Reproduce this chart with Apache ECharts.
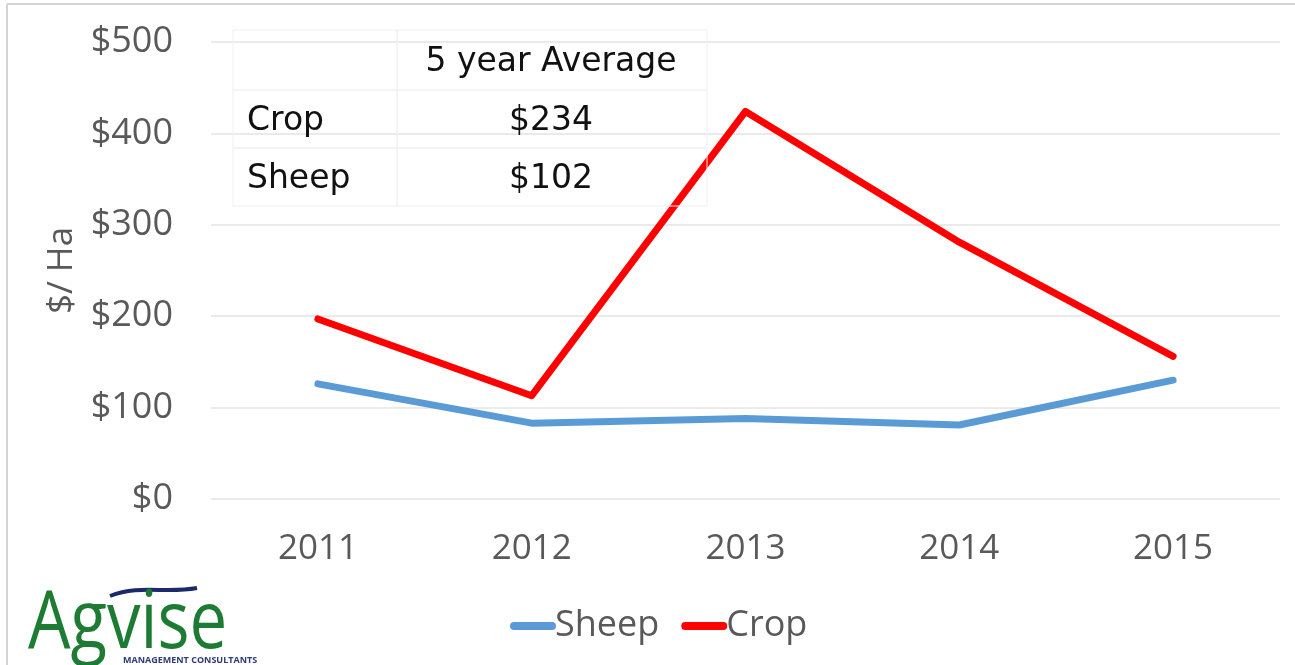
<!DOCTYPE html>
<html>
<head>
<meta charset="utf-8">
<script src="https://cdn.jsdelivr.net/npm/echarts@6/dist/echarts.min.js"></script>
<style>
  html, body { margin: 0; padding: 0; background: #fff; }
  #chart { width: 1295px; height: 665px; }
</style>
</head>
<body>
<div id="chart"></div>
<script>
// data
const years = ['2011', '2012', '2013', '2014', '2015']
const sheep = [126, 83, 88, 81, 130]
const crop = [197, 113, 424, 281, 156]
const avgRows = [['Crop', '$234'], ['Sheep', '$102']]
const avgHeader = '5 year Average'

const axisFont = 'Open Sans'
const tableFont = 'DejaVu Sans'
const grey = '#595959'
const pill = 'path://M4,0 H42 A4,4 0 0 1 42,8 H4 A4,4 0 0 1 4,0 Z'

const chart = echarts.init(document.getElementById('chart'))

// little summary table sitting over the top-left of the plot
const tableEls = []
const colX = [233, 397, 707]
const rowY = [30, 90, 148, 206]
for (let r = 0; r < 3; r++) {
  for (let c = 0; c < 2; c++) {
    tableEls.push({
      type: 'rect',
      shape: { x: colX[c], y: rowY[r], width: colX[c + 1] - colX[c], height: rowY[r + 1] - rowY[r] },
      style: { fill: 'transparent', stroke: '#f0f0f0', lineWidth: 1 },
      z: 50
    })
  }
}
tableEls.push({
  type: 'text', x: 551, y: 62,
  style: { text: avgHeader, font: '33px ' + tableFont, fill: '#111', align: 'center', verticalAlign: 'middle' },
  z: 51
})
avgRows.forEach((row, i) => {
  const cy = (rowY[i + 1] + rowY[i + 2]) / 2 + 2
  tableEls.push({
    type: 'text', x: 247, y: cy,
    style: { text: row[0], font: '33px ' + tableFont, fill: '#111', align: 'left', verticalAlign: 'middle' },
    z: 51
  })
  tableEls.push({
    type: 'text', x: 551, y: cy,
    style: { text: row[1], font: '33px ' + tableFont, fill: '#111', align: 'center', verticalAlign: 'middle' },
    z: 51
  })
})

const option = {
  animation: false,
  grid: { left: 211, right: 15, top: 42, bottom: 166, containLabel: false },
  legend: {
    data: [{ name: 'Sheep', icon: pill }, { name: 'Crop', icon: pill }],
    left: 505,
    top: 603,
    itemWidth: 46,
    itemHeight: 8,
    itemGap: 22,
    textStyle: { fontFamily: axisFont, fontSize: 36, color: grey, padding: [0, 0, 0, -6] }
  },
  xAxis: {
    type: 'category',
    data: years,
    boundaryGap: true,
    axisLine: { show: false },
    axisTick: { show: false },
    axisLabel: { fontFamily: axisFont, fontSize: 35, color: grey, margin: 33 }
  },
  yAxis: {
    type: 'value',
    min: 0,
    max: 500,
    interval: 100,
    name: '$/ Ha',
    nameLocation: 'middle',
    nameGap: 130,
    nameTextStyle: { fontFamily: axisFont, fontSize: 35, color: grey },
    axisLine: { show: false },
    axisTick: { show: false },
    axisLabel: { fontFamily: axisFont, fontSize: 36, color: grey, margin: 38, formatter: v => '$' + v },
    splitLine: { lineStyle: { color: '#e3e3e3', width: 1.5 } }
  },
  series: [
    {
      name: 'Sheep',
      type: 'line',
      data: sheep,
      symbol: 'none',
      lineStyle: { color: '#5b9bd5', width: 7, cap: 'round', join: 'round' },
      itemStyle: { color: '#5b9bd5' }
    },
    {
      name: 'Crop',
      type: 'line',
      data: crop,
      symbol: 'none',
      lineStyle: { color: '#ff0000', width: 7, cap: 'round', join: 'round' },
      itemStyle: { color: '#ff0000' }
    }
  ],
  graphic: [
    // frame
    { type: 'line', shape: { x1: 7, y1: 4, x2: 1295, y2: 4 }, style: { stroke: '#d4d4d4', lineWidth: 2 } },
    { type: 'line', shape: { x1: 7, y1: 4, x2: 7, y2: 665 }, style: { stroke: '#d4d4d4', lineWidth: 2 } },
    // logo
    {
      type: 'bezierCurve',
      shape: { x1: 110, y1: 596, x2: 197, y2: 588, cpx1: 140, cpy1: 584, cpx2: 165, cpy2: 594 },
      style: { stroke: '#1c2a6b', lineWidth: 4, fill: null }
    },
    {
      type: 'text', x: 28, y: 625, scaleX: 0.84,
      style: { text: 'Agvise', font: '80px ' + axisFont, fill: '#1e7b34', verticalAlign: 'middle' }
    },
    {
      type: 'text', x: 123, y: 660,
      style: { text: 'MANAGEMENT CONSULTANTS', font: 'bold 9px ' + axisFont, fill: '#2c3a7a', verticalAlign: 'middle' }
    },
    ...tableEls
  ]
}

chart.setOption(option)
</script>
</body>
</html>
